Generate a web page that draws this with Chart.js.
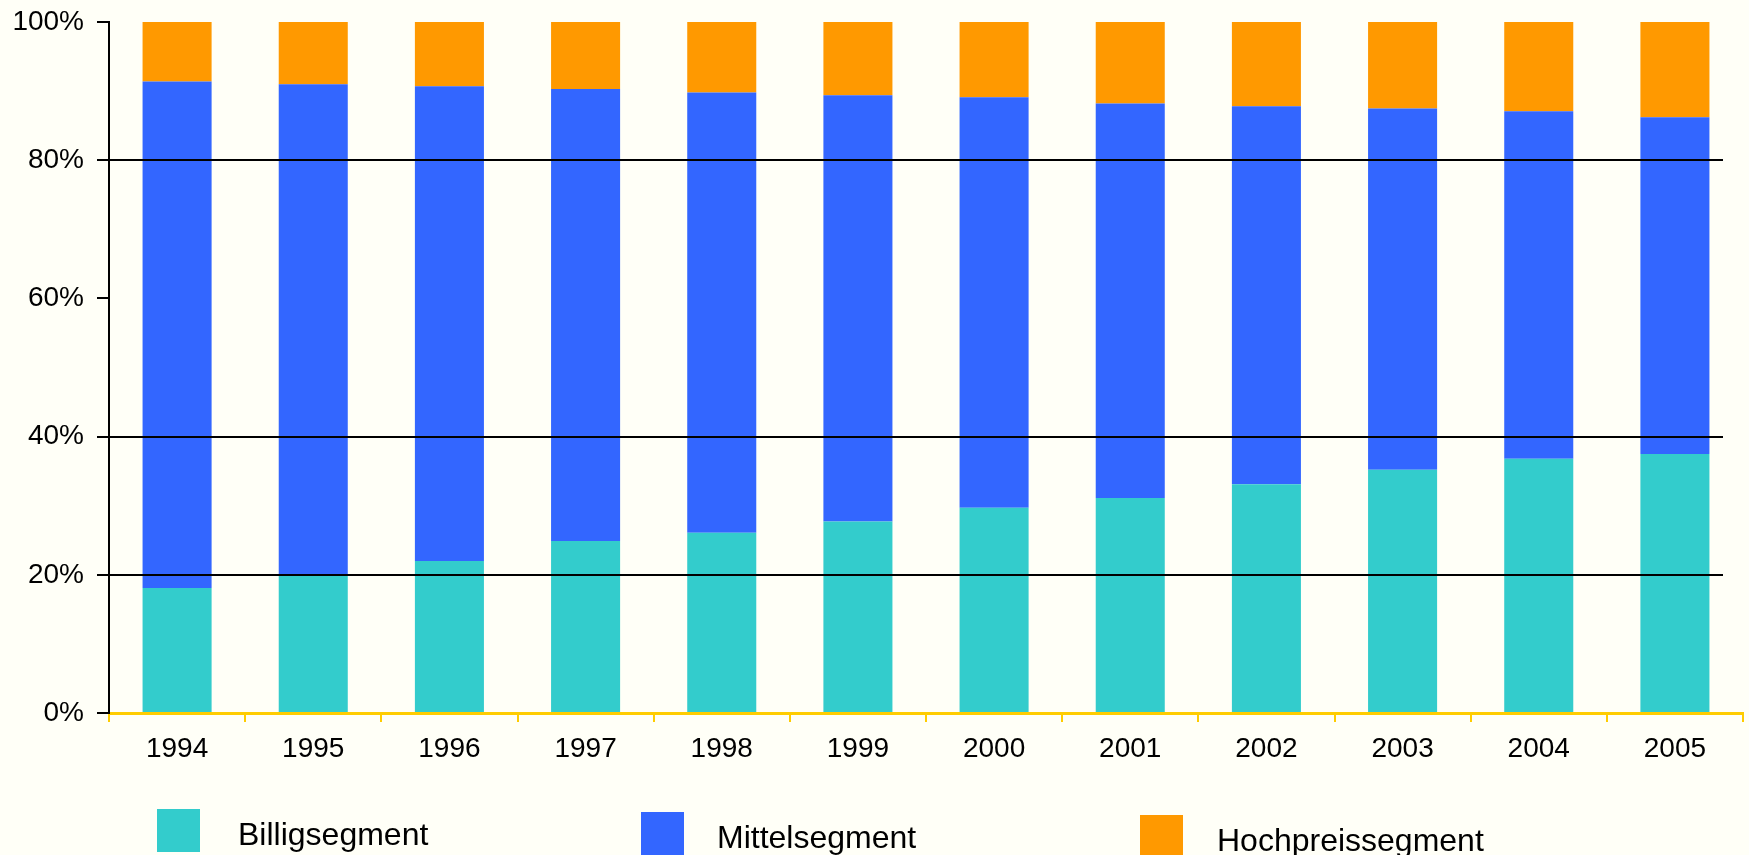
<!DOCTYPE html>
<html>
<head>
<meta charset="utf-8">
<script src="https://cdn.jsdelivr.net/npm/chart.js@4"></script>
<style>
  html, body { margin: 0; padding: 0; background: #fffff7; }
  #wrap { position: relative; width: 1749px; height: 855px; overflow: hidden; }
  .leg { position: absolute; display: flex; align-items: center; font-family: "Liberation Sans", Arial, sans-serif; font-size: 32px; color: #000; }
  .leg span.box { display: inline-block; width: 43px; height: 43px; }
  .leg span.txt { position: relative; top: 4px; }
</style>
</head>
<body>
<div id="wrap">
  <canvas id="segChart"></canvas>
  <div class="leg" style="left:157px; top:809px;"><span class="box" style="background:#33cccc"></span><span class="txt" style="margin-left:38px">Billigsegment</span></div>
  <div class="leg" style="left:641px; top:812px;"><span class="box" style="background:#3366ff"></span><span class="txt" style="margin-left:33px">Mittelsegment</span></div>
  <div class="leg" style="left:1140px; top:815px;"><span class="box" style="background:#ff9900"></span><span class="txt" style="margin-left:34px">Hochpreissegment</span></div>
</div>
<script>
// Daten (Anteile in %)
const jahre = ["1994", "1995", "1996", "1997", "1998", "1999", "2000", "2001", "2002", "2003", "2004", "2005"];
const billig = [18.1, 20.0, 22.0, 24.9, 26.1, 27.7, 29.7, 31.1, 33.1, 35.2, 36.8, 37.5];
const mittel = [73.3, 71.0, 68.7, 65.4, 63.7, 61.7, 59.4, 57.1, 54.7, 52.3, 50.3, 48.7];
const hoch = [8.6, 9.0, 9.3, 9.7, 10.2, 10.6, 10.9, 11.8, 12.2, 12.5, 12.9, 13.8];
const yTicks = [0, 20, 40, 60, 80, 100];
const gitterWerte = [20, 40, 80]; // nur diese Linien sind im Original zu sehen

const schrift = "'Liberation Sans', Arial, sans-serif";

// Gitterlinien über den Balken zeichnen (enden etwas vor dem rechten Rand)
const gitterPlugin = {
  id: "gitter",
  afterDatasetsDraw(chart) {
    const { ctx, chartArea, scales } = chart;
    ctx.save();
    ctx.strokeStyle = "#000";
    ctx.lineWidth = 2;
    gitterWerte.forEach(v => {
      const y = Math.round(scales.y.getPixelForValue(v));
      ctx.beginPath();
      ctx.moveTo(chartArea.left, y);
      ctx.lineTo(chartArea.right - 20, y);
      ctx.stroke();
    });
    ctx.restore();
  }
};

const ctx = document.getElementById("segChart").getContext("2d");
const segChart = new Chart(ctx, {
  type: "bar",
  data: {
    labels: jahre,
    datasets: [
      { label: "Billigsegment", data: billig, backgroundColor: "#33cccc" },
      { label: "Mittelsegment", data: mittel, backgroundColor: "#3366ff" },
      { label: "Hochpreissegment", data: hoch, backgroundColor: "#ff9900" }
    ]
  },
  options: {
    responsive: true,
    maintainAspectRatio: false,
    animation: false,
    datasets: {
      bar: { categoryPercentage: 1.0, barPercentage: 0.507, borderWidth: 0 }
    },
    layout: { padding: { top: 22, right: 6, left: 0, bottom: 0 } },
    plugins: {
      legend: { display: false },
      tooltip: { enabled: false }
    },
    scales: {
      x: {
        stacked: true,
        afterFit(scale) { scale.height = 142; },
        border: { display: true, color: "#ffcc00", width: 3 },
        grid: { display: true, drawOnChartArea: false, drawTicks: true, tickLength: 9, color: "#ffcc00", lineWidth: 2, offset: true },
        ticks: { color: "#000", padding: 10, font: { family: schrift, size: 28 }, maxRotation: 0 }
      },
      y: {
        stacked: true,
        min: 0,
        max: 100,
        afterFit(scale) {
          scale.width = 109;
          scale.paddingTop = 0;
          scale.paddingBottom = 0;
        },
        afterBuildTicks(scale) { scale.ticks = yTicks.map(v => ({ value: v })); },
        border: { display: true, color: "#000", width: 2 },
        grid: { display: true, drawOnChartArea: false, drawTicks: true, tickLength: 12, color: "#000", lineWidth: 2 },
        ticks: {
          color: "#000",
          padding: 13,
          font: { family: schrift, size: 28 },
          callback: v => v + "%"
        }
      }
    }
  },
  plugins: [gitterPlugin]
});
</script>
</body>
</html>
